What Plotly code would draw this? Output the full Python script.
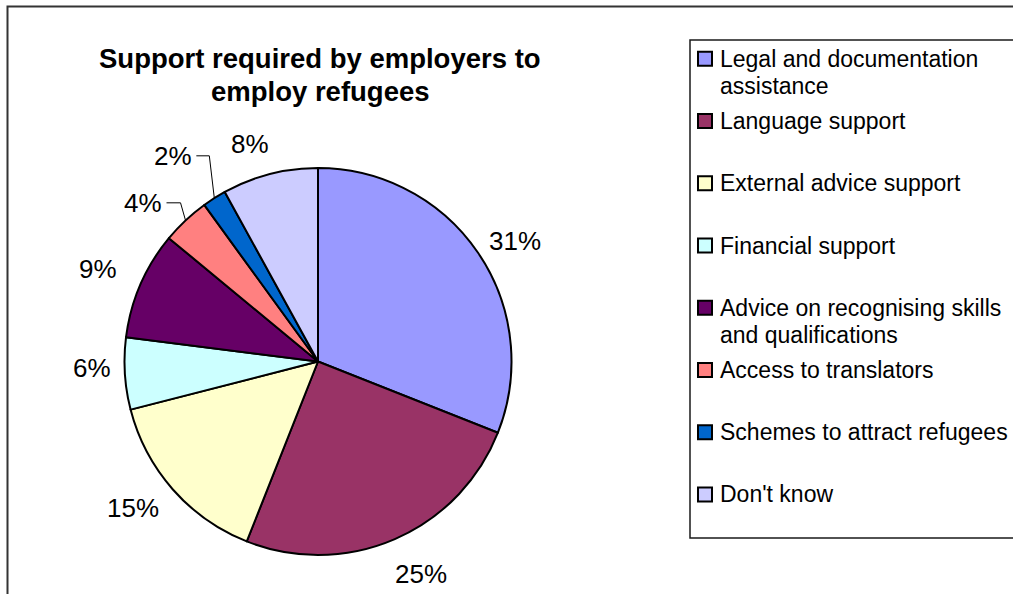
import math
import textwrap
import plotly.graph_objects as go

# ---- data ----
categories = [
    "Legal and documentation assistance",
    "Language support",
    "External advice support",
    "Financial support",
    "Advice on recognising skills and qualifications",
    "Access to translators",
    "Schemes to attract refugees",
    "Don't know",
]
values = [31, 25, 15, 6, 9, 4, 2, 8]
title_lines = ["Support required by employers to", "employ refugees"]

# ---- styling ----
colors = ["#9999FF", "#993366", "#FFFFCC", "#CCFFFF",
          "#660066", "#FF8080", "#0066CC", "#CCCCFF"]
FONT = "Liberation Sans, Arial, sans-serif"
W, H = 1013, 594
CX, CY, R = 318.0, 361.5, 193.5          # pie centre / radius in pixels
LABEL_K = 1.21                            # label distance as fraction of radius
LABEL_NUDGE = {0: (3, 11), 1: (10, -2), 2: (-9, -8), 3: (8, -8),
               4: (-5, 0), 5: (-15, 12), 6: (-20, -8), 7: (-10, 9)}
LEADER = {5, 6}                           # labels pulled away and joined by a line
LEG_X0, LEG_Y0, LEG_Y1 = 690, 40, 538
LEG_FIRST, LEG_SLOT, LEG_LINE = 58.8, 62.24, 27
LEG_MARK_X, LEG_TEXT_X, LEG_MARK = 705, 718, 14
TITLE_X, TITLE_Y, TITLE_LINE = 320, 58, 33.3


def px(x):
    return x / W


def py(y):
    return 1 - y / H


fig = go.Figure()
fig.add_trace(go.Pie(
    values=values,
    labels=categories,
    sort=False,
    direction="clockwise",
    rotation=0,
    marker=dict(colors=colors, line=dict(color="black", width=2)),
    textinfo="none",
    hoverinfo="skip",
    showlegend=False,
    domain=dict(x=[px(CX - R), px(CX + R)], y=[py(CY + R), py(CY - R)]),
))

annotations = []
shapes = []

# percentage labels, positioned along each slice's mid-angle
total = sum(values)
cum = 0
for i, v in enumerate(values):
    mid = math.radians((cum + v / 2) / total * 360)
    cum += v
    sx, sy = math.sin(mid), -math.cos(mid)
    dx, dy = LABEL_NUDGE.get(i, (0, 0))
    lx = CX + LABEL_K * R * sx + dx
    ly = CY + LABEL_K * R * sy + dy
    text = f"{round(100 * v / total)}%"
    annotations.append(dict(
        x=px(lx), y=py(ly), xref="paper", yref="paper",
        text=text, showarrow=False, xanchor="center", yanchor="middle",
        font=dict(family=FONT, size=26, color="black"),
    ))
    if i in LEADER:
        ex, ey = CX + R * sx, CY + R * sy
        half_w = 0.5 * 26 * (0.556 * (len(text) - 1) + 0.889)
        kx, ky = ex - 5, ly
        shapes.append(dict(
            type="path", xref="paper", yref="paper",
            path=f"M {px(lx + half_w + 5)} {py(ky)} L {px(kx)} {py(ky)} L {px(ex)} {py(ey)}",
            line=dict(color="black", width=1),
        ))

# title
for j, line in enumerate(title_lines):
    annotations.append(dict(
        x=px(TITLE_X), y=py(TITLE_Y + j * TITLE_LINE), xref="paper", yref="paper",
        text=f"<b>{line}</b>", showarrow=False, xanchor="center", yanchor="middle",
        font=dict(family=FONT, size=27.5, color="black"),
    ))

# legend box
shapes.append(dict(type="rect", xref="paper", yref="paper",
                   x0=px(LEG_X0), x1=px(W + 20), y0=py(LEG_Y1), y1=py(LEG_Y0),
                   line=dict(color="#1a1a1a", width=1.5), fillcolor="rgba(0,0,0,0)"))

# legend entries
for i, (cat, col) in enumerate(zip(categories, colors)):
    yc = LEG_FIRST + i * LEG_SLOT
    shapes.append(dict(
        type="rect", xref="paper", yref="paper",
        x0=px(LEG_MARK_X - LEG_MARK / 2), x1=px(LEG_MARK_X + LEG_MARK / 2),
        y0=py(yc + LEG_MARK / 2), y1=py(yc - LEG_MARK / 2),
        line=dict(color="black", width=2), fillcolor=col,
    ))
    for k, part in enumerate(textwrap.wrap(cat, 28)):
        annotations.append(dict(
            x=px(LEG_TEXT_X), y=py(yc + k * LEG_LINE), xref="paper", yref="paper",
            text=part, showarrow=False, xanchor="left", yanchor="middle",
            font=dict(family=FONT, size=23, color="black"),
        ))

# outer chart frame
shapes.append(dict(type="rect", xref="paper", yref="paper",
                   x0=px(7.5), x1=px(W + 30), y0=py(H + 30), y1=py(6.5),
                   line=dict(color="#333333", width=2), fillcolor="rgba(0,0,0,0)"))

fig.update_layout(
    width=W, height=H,
    margin=dict(l=0, r=0, t=0, b=0),
    paper_bgcolor="white",
    plot_bgcolor="white",
    annotations=annotations,
    shapes=shapes,
    showlegend=False,
)

fig.write_html("out.html")
